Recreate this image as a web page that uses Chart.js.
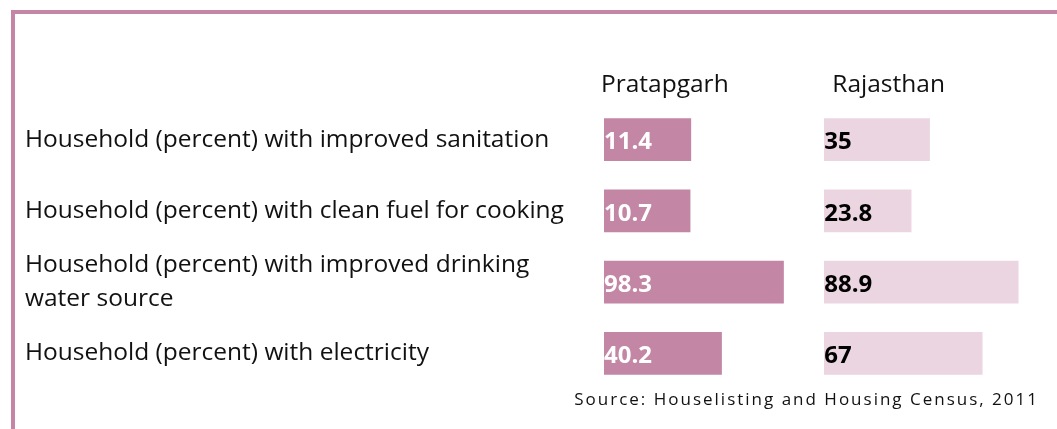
<!DOCTYPE html>
<html>
<head>
<meta charset="utf-8">
<script src="https://cdn.jsdelivr.net/npm/chart.js@4.4.1/dist/chart.umd.min.js"></script>
<style>
  html, body { margin: 0; padding: 0; background: #ffffff; }
  #wrap { position: relative; width: 1057px; height: 429px; overflow: hidden; }
  #frame { position: absolute; left: 11px; top: 10px; right: 0; bottom: 0;
           border-top: 4px solid #c585a5; border-left: 4px solid #c585a5; }
  #c { position: absolute; left: 0; top: 0; }
</style>
</head>
<body>
<div id="wrap">
  <div id="frame"></div>
  <canvas id="c" width="1057" height="429"></canvas>
</div>
<script>
const categories = [
  "Household (percent) with improved sanitation",
  "Household (percent) with clean fuel for cooking",
  ["Household (percent) with improved drinking", "water source"],
  "Household (percent) with electricity"
];
const seriesNames = ["Pratapgarh", "Rajasthan"];
const pratapgarh = [11.4, 10.7, 98.3, 40.2];
const rajasthan = [35, 23.8, 88.9, 67];
const sourceText = "Source: Houselisting and Housing Census, 2011";

const FONT = '"Open Sans", "Noto Sans", sans-serif';
const valueColors = ["#ffffff", "#000000"];
const headerNudge = [-3, 8];

const overlay = {
  id: 'overlay',
  afterDatasetsDraw(chart) {
    const ctx = chart.ctx;
    chart.data.datasets.forEach((ds, i) => {
      const meta = chart.getDatasetMeta(i);
      ctx.save();
      ctx.font = 'bold 24px ' + FONT;
      ctx.fillStyle = valueColors[i];
      ctx.textBaseline = 'middle';
      ctx.textAlign = 'left';
      meta.data.forEach((bar, j) => {
        const left = Math.min(bar.x, bar.base);
        ctx.fillText(String(ds.data[j]), left, bar.y + 3);
      });
      ctx.font = '24.5px ' + FONT;
      ctx.fillStyle = '#111111';
      ctx.fillText(ds.label, meta.data[0].base + headerNudge[i], 85);
      ctx.restore();
    });
    ctx.save();
    ctx.font = '17px ' + FONT;
    ctx.letterSpacing = '2px';
    ctx.fillStyle = '#111111';
    ctx.textAlign = 'right';
    ctx.textBaseline = 'alphabetic';
    ctx.fillText(sourceText, 1039, 405);
    ctx.restore();
  }
};

new Chart(document.getElementById('c'), {
  type: 'bar',
  data: {
    labels: categories,
    datasets: [
      { label: seriesNames[0], data: pratapgarh, xAxisID: 'xP', base: -70,
        backgroundColor: '#c386a5', grouped: false, barThickness: 42 },
      { label: seriesNames[1], data: rajasthan, xAxisID: 'xR', base: -29,
        backgroundColor: '#ebd5e1', grouped: false, barThickness: 42 }
    ]
  },
  options: {
    indexAxis: 'y',
    responsive: false,
    animation: false,
    layout: { padding: { left: 25, right: 37, top: 104, bottom: 40 } },
    plugins: { legend: { display: false }, tooltip: { enabled: false } },
    scales: {
      xP: { type: 'linear', position: 'top', display: false, min: -70, max: 320 },
      xR: { type: 'linear', position: 'top', display: false, min: -163, max: 90 },
      y: {
        grid: { display: false },
        border: { display: false },
        ticks: { crossAlign: 'far', color: '#111111', padding: 0,
                 font: { family: FONT, size: 24.5, lineHeight: 1.36 } },
        afterFit(s) { s.width = 579; }
      }
    }
  },
  plugins: [overlay]
});
</script>
</body>
</html>
